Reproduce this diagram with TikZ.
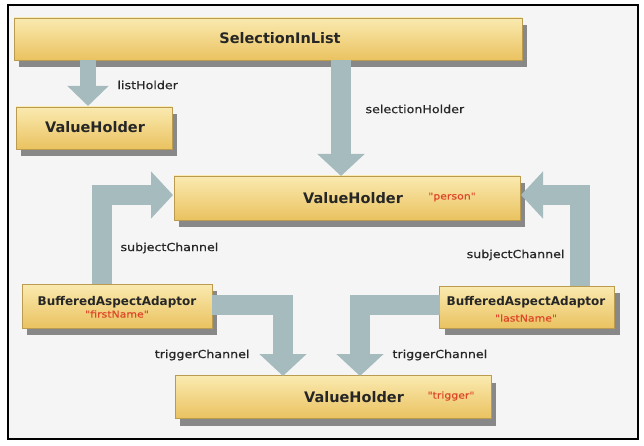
\documentclass[tikz,border=0pt]{standalone}
\usepackage{fontspec}
\setmainfont{DejaVu Sans}
\newfontfamily\lblfont[FakeStretch=1.15,FakeBold=0.6]{DejaVu Sans}
\usepackage{tikz}
\usetikzlibrary{arrows.meta,positioning,shadows}

\definecolor{arrowgray}{RGB}{166,187,190}
\definecolor{boxtop}{RGB}{250,234,176}
\definecolor{boxbot}{RGB}{234,194,96}
\definecolor{namered}{RGB}{222,70,40}
\definecolor{paper}{RGB}{245,245,245}

\begin{document}
\begin{tikzpicture}[
    x=1pt, y=-1pt,
    box/.style={rectangle, inner sep=0pt, top color=boxtop, bottom color=boxbot, draw=boxbot!80!black, thin,
        drop shadow={shadow xshift=5pt, shadow yshift=-7pt, fill=black!75, opacity=0.6}},
    boxtitle/.style={font=\bfseries\fontsize{14.5}{16}\selectfont, text=black!85},
    boxsmall/.style={font=\bfseries\fontsize{12}{14}\selectfont, text=black!85},
    nametxt/.style={font=\lblfont\fontsize{9.5}{10}\selectfont, text=namered},
    conlabel/.style={font=\lblfont\fontsize{11}{12}\selectfont, text=black!85},
    fat/.style={line width=20pt, draw=arrowgray, line join=miter, -{Triangle[length=22pt, width=46pt]}},
    thinfat/.style={line width=16pt, draw=arrowgray, line join=miter, -{Triangle[length=20pt, width=40pt]}}
]
\useasboundingbox (0,0) rectangle (644,446);
\fill[white] (0,0) rectangle (644,446);
\draw[fill=paper, line width=1.2pt] (8,5) rectangle (638,439);

% boxes
\node[box, minimum width=508pt, minimum height=42pt] (sil) at (268,39) {};
\node[box, minimum width=156pt, minimum height=42pt] (vhList) at (94,128) {};
\node[box, minimum width=346pt, minimum height=44pt] (vhPerson) at (347,198) {};
\node[box, minimum width=190pt, minimum height=44pt] (bufFirst) at (117,306) {};
\node[box, minimum width=175pt, minimum height=42pt] (bufLast) at (527,307) {};
\node[box, minimum width=316pt, minimum height=43pt] (vhTrigger) at (333,397) {};

% texts
\node[boxtitle] (silT) at (280,38) {SelectionInList};
\node[boxtitle] (vhListT) at (95,127) {ValueHolder};
\node[boxtitle] (vhPersonT) at (353,198) {ValueHolder};
\node[nametxt] (vhPersonN) at (452,197) {"person"};
\node[boxsmall] (bufFirstT) at (117,302) {BufferedAspectAdaptor};
\node[nametxt] (bufFirstN) at (117,314) {"firstName"};
\node[boxsmall] (bufLastT) at (526,302) {BufferedAspectAdaptor};
\node[nametxt] (bufLastN) at (526,318) {"lastName"};
\node[boxtitle] (vhTriggerT) at (354,397) {ValueHolder};
\node[nametxt] (vhTriggerN) at (451,396) {"trigger"};

% connectors
\coordinate (lhS) at (88,60);
\coordinate (lhE) at (88,106);
\draw[thinfat] (lhS) -- (lhE);
\node[conlabel, anchor=west] (lhL) at (114,85) {listHolder};

\coordinate (shS) at (341,60);
\coordinate (shE) at (341,176);
\draw[fat] (shS) -- (shE);
\node[conlabel, anchor=west] (shL) at (362,109) {selectionHolder};

\coordinate (scA) at (102,284);
\coordinate (scB) at (102,195);
\coordinate (scC) at (173,195);
\draw[fat] (scA) -- (scB) -- (scC);
\node[conlabel, anchor=west] (scL) at (117,248) {subjectChannel};

\coordinate (scD) at (580,286);
\coordinate (scE) at (580,195);
\coordinate (scF) at (521,195);
\draw[fat] (scD) -- (scE) -- (scF);
\node[conlabel, anchor=east] (scR) at (568,255) {subjectChannel};

\coordinate (tcA) at (212,305);
\coordinate (tcB) at (283,305);
\coordinate (tcC) at (283,376);
\draw[fat] (tcA) -- (tcB) -- (tcC);
\node[conlabel, anchor=east] (tcL) at (253,355) {triggerChannel};

\coordinate (tcD) at (440,305);
\coordinate (tcE) at (360,305);
\coordinate (tcF) at (360,376);
\draw[fat] (tcD) -- (tcE) -- (tcF);
\node[conlabel, anchor=west] (tcR) at (389,355) {triggerChannel};

\end{tikzpicture}
\end{document}
